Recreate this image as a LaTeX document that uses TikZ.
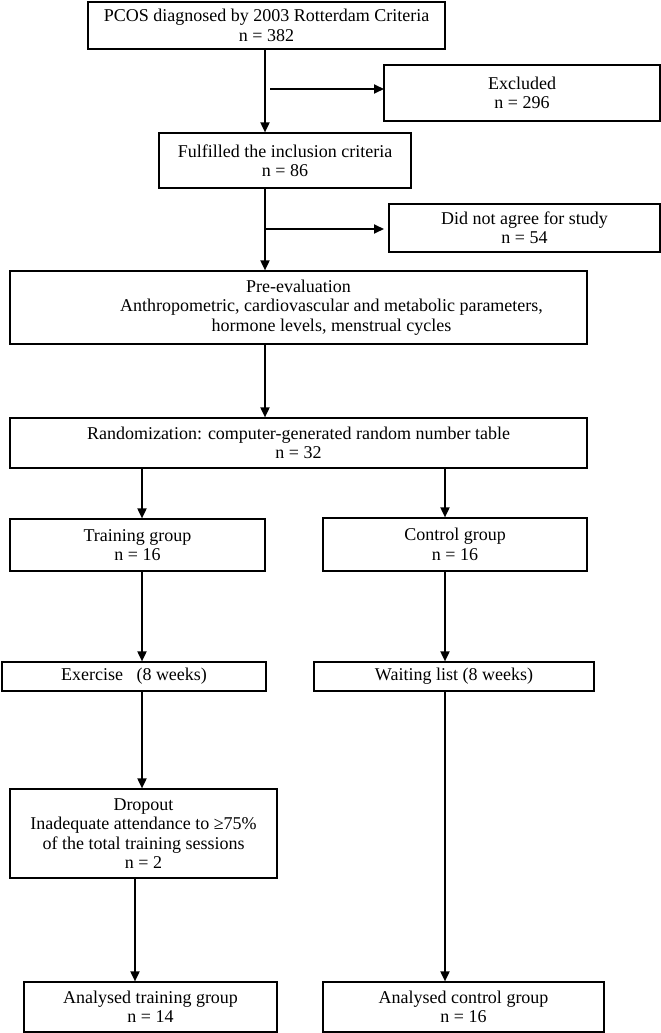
\documentclass[tikz,border=0pt]{standalone}
\usepackage{fontspec}
\setmainfont{Liberation Serif}
\usetikzlibrary{arrows.meta}
\begin{document}
\begin{tikzpicture}[x=1pt,y=-1pt,
  box/.style={draw, line width=1.2pt, rectangle, inner sep=0pt, align=center,
    font=\fontsize{18}{19.4}\selectfont},
  arr/.style={line width=1.8pt, -{Triangle[length=10pt,width=9pt]}}]
\useasboundingbox (0,0) rectangle (661,1033);
\node[box, minimum width=357pt, minimum height=47pt] (b1) at (266.5,25.5) {PCOS diagnosed by 2003 Rotterdam Criteria\\n = 382};
\node[box, minimum width=276pt, minimum height=56pt] (excl) at (522,93) {Excluded\\n = 296};
\node[box, minimum width=252pt, minimum height=55pt] (b2) at (285,160.5) {Fulfilled the inclusion criteria\\n = 86};
\node[box, minimum width=271pt, minimum height=48pt] (dna) at (524.5,228) {Did not agree for study\\n = 54};
\node[box, minimum width=577pt, minimum height=73pt] (pre) at (298.5,307.5) {Pre-evaluation\\\hspace*{66pt}Anthropometric, cardiovascular and metabolic parameters,\\\hspace*{66pt}hormone levels, menstrual cycles};
\node[box, minimum width=577pt, minimum height=50pt] (rand) at (298.5,443) {Randomization: computer-generated random number table\\n = 32};
\node[box, minimum width=255pt, minimum height=52pt] (train) at (137.5,545) {Training group\\n = 16};
\node[box, minimum width=264pt, minimum height=53pt] (ctrl) at (455,544.5) {Control group\\n = 16};
\node[box, minimum width=264pt, minimum height=29pt] (ex) at (134,676.5) {Exercise\ \ \ (8 weeks)};
\node[box, minimum width=280pt, minimum height=29pt] (wait) at (454,676.5) {Waiting list (8 weeks)};
\node[box, minimum width=267pt, minimum height=89pt] (drop) at (143.5,833.5) {Dropout\\Inadequate attendance to ≥75\%\\of the total training sessions\\n = 2};
\node[box, minimum width=253pt, minimum height=50pt] (atr) at (150.5,1007) {Analysed training group\\n = 14};
\node[box, minimum width=281pt, minimum height=50pt] (actrl) at (463.5,1007) {Analysed control group\\n = 16};
\coordinate (main) at (265,0);
\coordinate (lcol) at (142,0);
\coordinate (rcol) at (445,0);
\coordinate (dcol) at (135,0);
\coordinate (br1s) at (270,89);
\coordinate (br1e) at (384,89);
\coordinate (br2s) at (265,229);
\coordinate (br2e) at (384,229);
\draw[arr] (b1.south -| main) -- (b2.north -| main);
\draw[arr] (br1s) -- (br1e);
\draw[arr] (b2.south -| main) -- (pre.north -| main);
\draw[arr] (br2s) -- (br2e);
\draw[arr] (pre.south -| main) -- (rand.north -| main);
\draw[arr] (rand.south -| lcol) -- (train.north -| lcol);
\draw[arr] (rand.south -| rcol) -- (ctrl.north -| rcol);
\draw[arr] (train.south -| lcol) -- (ex.north -| lcol);
\draw[arr] (ctrl.south -| rcol) -- (wait.north -| rcol);
\draw[arr] (ex.south -| lcol) -- (drop.north -| lcol);
\draw[arr] (drop.south -| dcol) -- (atr.north -| dcol);
\draw[arr] (wait.south -| rcol) -- (actrl.north -| rcol);
\end{tikzpicture}
\end{document}
